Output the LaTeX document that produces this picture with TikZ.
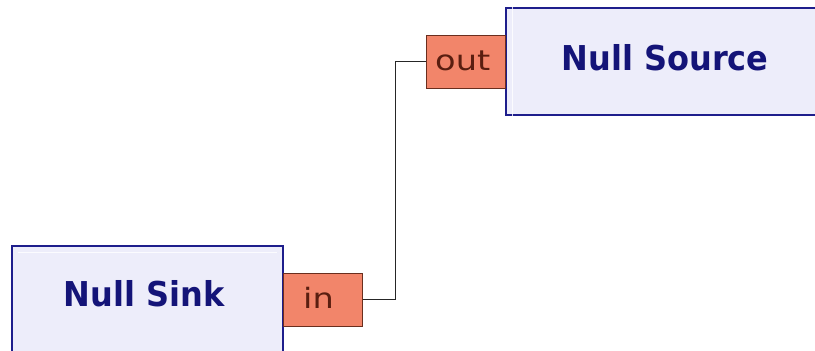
\documentclass[tikz,border=0pt]{standalone}
\usepackage{fontspec}
\usepackage{graphicx}
\setmainfont{DejaVu Sans}
\definecolor{blockfill}{HTML}{EDEDFA}
\definecolor{blockline}{HTML}{1E1E8C}
\definecolor{blocktext}{HTML}{141478}
\definecolor{portfill}{HTML}{F2856A}
\definecolor{portline}{HTML}{6A2E1E}
\definecolor{porttext}{HTML}{5A1E10}
\tikzset{
  blockbox/.style={draw=blockline, line width=1.2pt, fill=blockfill, inner sep=0pt},
  blocklabel/.style={font=\fontsize{32}{38}\selectfont\bfseries, text=blocktext, inner sep=0pt, anchor=base},
  portbox/.style={draw=portline, line width=1pt, fill=portfill, inner sep=0pt,
    minimum width=79pt, minimum height=53pt},
  portlabel/.style={font=\fontsize{28}{34}\selectfont, text=porttext, inner sep=0pt, anchor=base west},
  wire/.style={draw=black!85, line width=1pt}
}
\begin{document}
\begin{tikzpicture}[x=1pt,y=-1pt]
\useasboundingbox (0,0) rectangle (815,351);
\fill[white] (0,0) rectangle (815,351);
\clip (0,0) rectangle (815,351);
\node[blockbox, minimum width=318pt, minimum height=107pt] (src) at (665,61.5) {};
\node[blocklabel] (srclabel) at (665,70.5) {\scalebox{1}[1.07]{Null Source}};
\node[blockbox, minimum width=271pt, minimum height=107pt] (snk) at (147.5,299.5) {};
\node[blocklabel] (snklabel) at (144,306) {\scalebox{1}[1.07]{Null Sink}};
\draw[white, line width=0.8pt, opacity=0.8] ([shift={(7,-7)}]src.north west) -- ([shift={(7,7)}]src.south west);
\draw[white, line width=0.8pt, opacity=0.8] ([shift={(7,7)}]snk.north west) -- ([shift={(-7,7)}]snk.north east);
\node[portbox] (outp) at (466,61.5) {};
\node[portlabel] (outlabel) at (435,70) {\scalebox{1.2}[1]{out}};
\node[portbox] (inp) at (322.5,299.5) {};
\node[portlabel] (inlabel) at (303,308) {\scalebox{1.2}[1]{in}};
\coordinate (bend) at (395,0);
\draw[wire] (inp.east) -- (inp.east -| bend) -- (outp.west -| bend) -- (outp.west);
\end{tikzpicture}
\end{document}
